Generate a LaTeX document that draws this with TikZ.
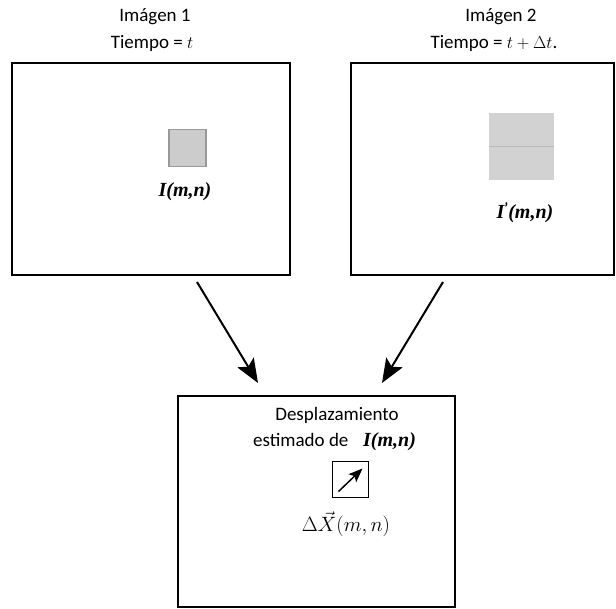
\documentclass[tikz,border=0pt]{standalone}
\usepackage{fontspec}
\setmainfont{Carlito}
\newfontfamily\serifbi{Liberation Serif}
\usetikzlibrary{arrows.meta,calc}
\tikzset{
  frame/.style={draw=black, line width=2pt, fill=white, inner sep=0pt},
  lbl/.style={font=\fontsize{19}{22}\selectfont, inner sep=0pt, align=center},
  ital/.style={font=\serifbi\fontsize{20}{22}\selectfont\bfseries\itshape, inner sep=0pt},
  bigarrow/.style={line width=2pt, -{Stealth[length=24pt,width=19pt,inset=5pt]}},
}
\newcommand{\myprime}{\raisebox{0.55ex}{\normalfont\bfseries\fontsize{15}{15}\selectfont\char"0027}}
\begin{document}
\begin{tikzpicture}[x=1pt,y=-1pt]
\useasboundingbox (0,0) rectangle (616,608);
% frames
\node[frame, minimum width=278pt, minimum height=212pt] (img1) at (151,168.5) {};
\node[frame, minimum width=263pt, minimum height=212pt] (img2) at (482.5,168.5) {};
\node[frame, minimum width=277pt, minimum height=211pt] (res) at (316.5,501) {};
% headers
\node[lbl] (h1) at (155,17) {Imágen 1};
\node[lbl] (t1) at (152,43) {Tiempo = $t$};
\node[lbl] (h2) at (501,17) {Imágen 2};
\node[lbl] (t2) at (494,43) {Tiempo = $t+\Delta t$.};
% patches
\node[draw=gray!80, line width=1.5pt, fill=gray!40, minimum size=37pt, inner sep=0pt] (p1) at (187.5,148) {};
\node[ital] (i1) at (185,192) {I(m,n)};
\node[fill=gray!35, minimum width=65pt, minimum height=67pt, inner sep=0pt] (p2) at (521.5,146.5) {};
\draw[gray!55, line width=1pt] (p2.west) -- (p2.east);
\node[ital] (i2) at (525,213) {I\myprime(m,n)};
% result
\node[lbl] (d1) at (337,415) {Desplazamiento};
\node[lbl, anchor=base west] (d2) at (253,446) {estimado de};
\node[ital, anchor=base west] (d3) at (363,446) {I(m,n)};
\node[draw=black, line width=1.2pt, minimum size=36pt, inner sep=0pt] (vb) at (350.5,479.5) {};
\coordinate (va) at ($(vb.center)+(-12,12)$);
\coordinate (vz) at ($(vb.center)+(12,-11)$);
\draw[line width=1.5pt, -{Stealth[length=14pt,width=11pt,inset=3pt]}] (va) -- (vz);
\node[inner sep=0pt, font=\fontsize{21}{23}\selectfont] (dx) at (346,524) {$\Delta\vec{X}(m,n)$};
% arrows
\coordinate (a1s) at (197,282);
\coordinate (a1e) at (258,383);
\coordinate (a2s) at (443,282);
\coordinate (a2e) at (382,383);
\draw[bigarrow] (a1s) -- (a1e);
\draw[bigarrow] (a2s) -- (a2e);
\end{tikzpicture}
\end{document}
